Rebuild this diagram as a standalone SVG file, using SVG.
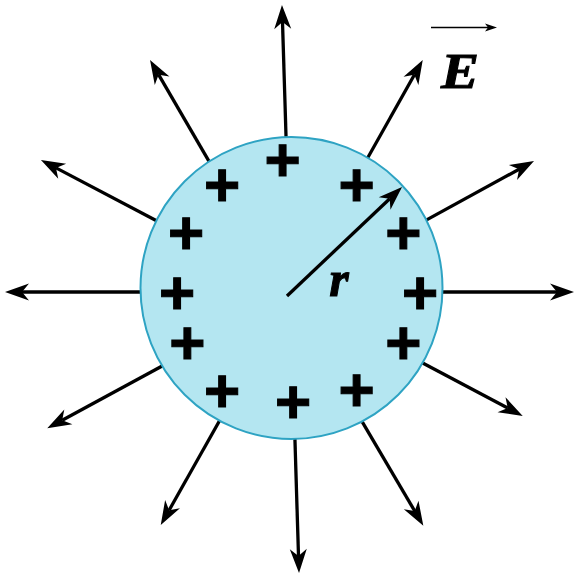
<svg xmlns="http://www.w3.org/2000/svg" width="575" height="577" viewBox="0 0 575 577">
<style>
.fl{stroke:#000;stroke-width:3.3;fill:none;marker-end:url(#ah)}
.pl{font-family:"Liberation Sans",Arial,sans-serif;font-weight:bold;font-size:62px;fill:#000;stroke:#000;stroke-width:1.1;text-anchor:middle}
.lb{font-family:"Liberation Serif","Times New Roman",serif;font-weight:bold;font-style:italic;fill:#000;stroke:#000;stroke-width:1}
</style>
<defs>
<marker id="ah" markerUnits="userSpaceOnUse" markerWidth="26" markerHeight="20" viewBox="0 -10 26 20" refX="7" refY="0" orient="auto" overflow="visible">
<path d="M24,0 L0,-8.5 L7,0 L0,8.5 Z" fill="#000"/>
</marker>
<marker id="ahs" markerUnits="userSpaceOnUse" markerWidth="14" markerHeight="10" viewBox="0 -5 14 10" refX="3" refY="0" orient="auto" overflow="visible">
<path d="M12,0 L0,-4 L3,0 L0,4 Z" fill="#000"/>
</marker>
</defs>
<rect width="575" height="577" fill="#fff"/>
<g id="field-lines">
<line class="fl" x1="286.2" y1="142" x2="282.5" y2="22"/>
<line class="fl" x1="294.8" y1="435" x2="298.5" y2="556"/>
<line class="fl" x1="145" y1="292" x2="22" y2="292"/>
<line class="fl" x1="438" y1="292" x2="557" y2="292"/>
<line class="fl" x1="210.8" y1="164.3" x2="158.6" y2="74.7"/>
<line class="fl" x1="365.9" y1="161" x2="414.4" y2="74.8"/>
<line class="fl" x1="159.4" y1="222.3" x2="56" y2="167.9"/>
<line class="fl" x1="423.9" y1="221.4" x2="519.1" y2="169.2"/>
<line class="fl" x1="165.4" y1="364.3" x2="62.2" y2="420.2"/>
<line class="fl" x1="418.9" y1="361" x2="507.7" y2="408"/>
<line class="fl" x1="221.5" y1="417.3" x2="169.1" y2="510.2"/>
<line class="fl" x1="360.2" y1="418.4" x2="414.7" y2="511"/>
</g>
<g id="sphere">
<circle cx="291.5" cy="288" r="151" fill="#b4e6f1" stroke="#2ea3c3" stroke-width="2"/>
<text class="pl" x="282.7" y="180.8">+</text>
<text class="pl" x="222" y="205.8">+</text>
<text class="pl" x="356.7" y="205.8">+</text>
<text class="pl" x="186" y="254.2">+</text>
<text class="pl" x="403.3" y="254.2">+</text>
<text class="pl" x="177" y="314.2">+</text>
<text class="pl" x="420" y="314.2">+</text>
<text class="pl" x="187.3" y="363.5">+</text>
<text class="pl" x="403.3" y="363.5">+</text>
<text class="pl" x="222" y="411.5">+</text>
<text class="pl" x="356.7" y="410.8">+</text>
<text class="pl" x="293" y="423.2">+</text>
</g>
<g id="radius">
<line class="fl" x1="287" y1="296" x2="389.7" y2="198.7"/>
<text class="lb" x="339" y="296" font-size="50" text-anchor="middle">r</text>
</g>
<g id="field-label">
<line x1="431" y1="27.5" x2="488" y2="27.5" stroke="#000" stroke-width="1.5" marker-end="url(#ahs)"/>
<text class="lb" x="441" y="88" font-size="50" textLength="38" lengthAdjust="spacingAndGlyphs">E</text>
</g>
</svg>
